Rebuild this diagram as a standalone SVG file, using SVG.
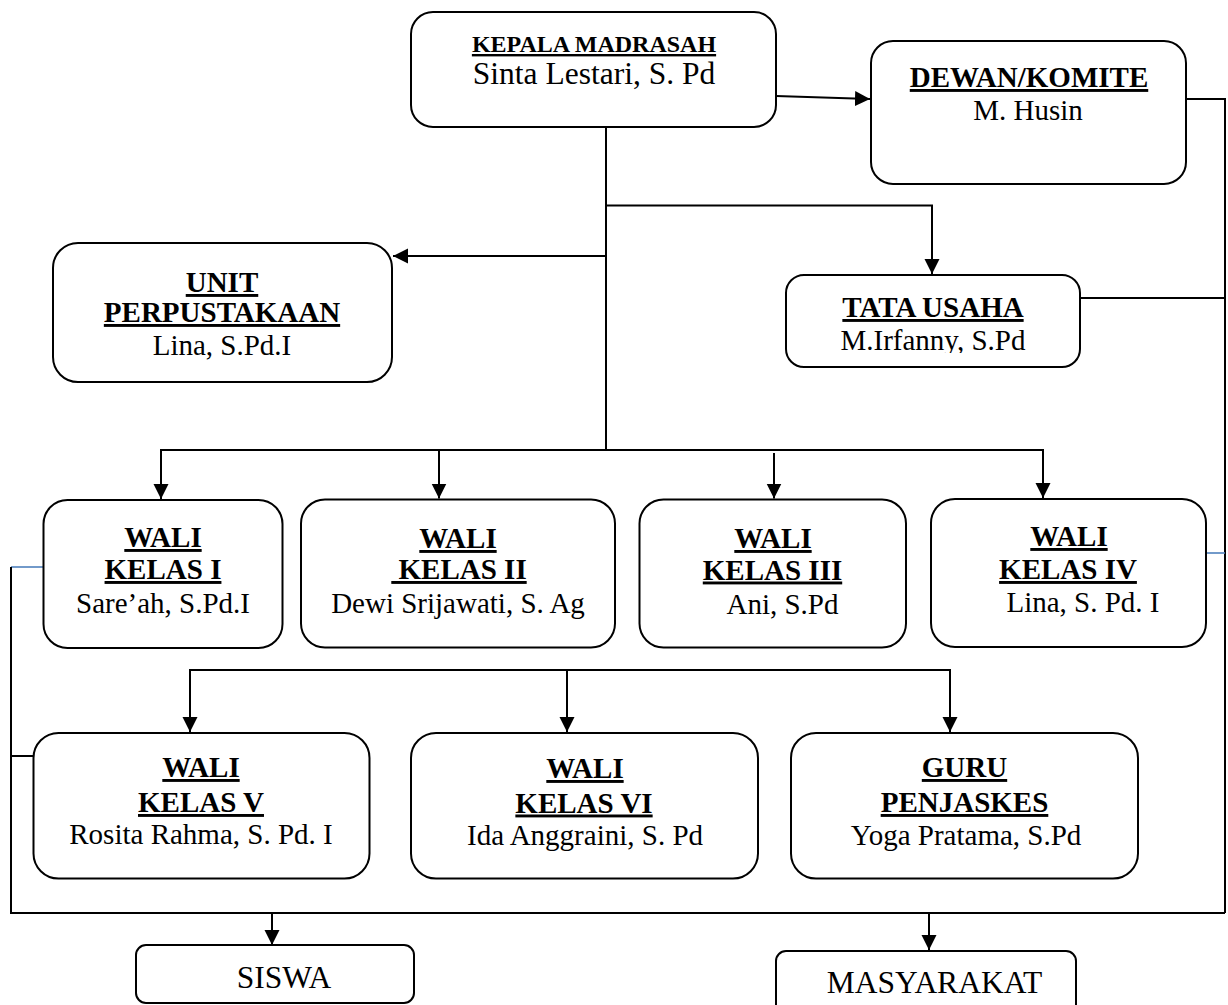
<svg xmlns="http://www.w3.org/2000/svg" width="1228" height="1005" viewBox="0 0 1228 1005">
<style>
.box{fill:#fff;stroke:#000;stroke-width:2}
.ln{fill:none;stroke:#000;stroke-width:2}
.blue{fill:none;stroke:#4F81BD;stroke-width:1.6}
text{font-family:"Liberation Serif","Times New Roman",serif;fill:#000;text-anchor:middle}
.h{font-weight:bold;font-size:29px;text-decoration:underline}
.n{font-size:29px}
</style>
<defs>
<marker id="arr" markerUnits="userSpaceOnUse" markerWidth="16" markerHeight="16" refX="15" refY="7.5" orient="auto">
<path d="M0,0 L15,7.5 L0,15 z" fill="#000"/>
</marker>
<clipPath id="tuclip"><rect x="786" y="275" width="294" height="78"/></clipPath>
</defs>
<rect width="1228" height="1005" fill="#fff"/>

<g id="connectors">
<line class="ln" x1="776" y1="96" x2="870" y2="99" marker-end="url(#arr)"/>
<line class="ln" x1="606" y1="127" x2="606" y2="450"/>
<path class="ln" d="M606,205.5 H932 V274" marker-end="url(#arr)"/>
<line class="ln" x1="606" y1="256" x2="393" y2="256" marker-end="url(#arr)"/>
<line class="ln" x1="160" y1="450" x2="1044" y2="450"/>
<line class="ln" x1="161" y1="450" x2="161" y2="499" marker-end="url(#arr)"/>
<line class="ln" x1="439" y1="450" x2="439" y2="498.5" marker-end="url(#arr)"/>
<line class="ln" x1="774" y1="453" x2="774" y2="498.5" marker-end="url(#arr)"/>
<line class="ln" x1="1043" y1="450" x2="1043" y2="498" marker-end="url(#arr)"/>
<line class="ln" x1="189" y1="670" x2="951" y2="670"/>
<line class="ln" x1="190" y1="670" x2="190" y2="732" marker-end="url(#arr)"/>
<line class="ln" x1="567" y1="670" x2="567" y2="732" marker-end="url(#arr)"/>
<line class="ln" x1="950" y1="670" x2="950" y2="732" marker-end="url(#arr)"/>
<path class="ln" d="M1186,99 H1225 V913"/>
<path class="ln" d="M1080,298 H1225"/>
<path class="blue" d="M1206,553 H1225"/>
<path class="blue" d="M43,567 H11"/>
<path class="ln" d="M11,567 V913 H1225"/>
<path class="ln" d="M11,756 H34"/>
<line class="ln" x1="272" y1="913" x2="272" y2="945" marker-end="url(#arr)"/>
<line class="ln" x1="929" y1="913" x2="929" y2="950" marker-end="url(#arr)"/>
</g>

<g id="kepala">
<rect class="box" x="411" y="12" width="365" height="115" rx="22"/>
<text x="594" y="52" style="font-weight:bold;font-size:24px;text-decoration:underline">KEPALA MADRASAH</text>
<text x="594" y="84" style="font-size:31.5px">Sinta Lestari, S. Pd</text>
</g>

<g id="dewan">
<rect class="box" x="871" y="41" width="315" height="143" rx="22"/>
<text class="h" x="1029" y="87">DEWAN/KOMITE</text>
<text class="n" x="1028" y="120">M. Husin</text>
</g>

<g id="unit">
<rect class="box" x="53" y="243" width="339" height="139" rx="25"/>
<text class="h" x="222" y="292">UNIT</text>
<text class="h" x="222" y="322">PERPUSTAKAAN</text>
<text class="n" x="222" y="355">Lina, S.Pd.I</text>
</g>

<g id="tata-usaha">
<rect class="box" x="786" y="275" width="294" height="92" rx="18"/>
<text class="h" x="933" y="317">TATA USAHA</text>
<text class="n" x="933" y="350" clip-path="url(#tuclip)">M.Irfanny, S.Pd</text>
</g>

<g id="kelas1">
<rect class="box" x="43.5" y="500" width="239" height="148" rx="24"/>
<text class="h" x="163" y="547">WALI</text>
<text class="h" x="163" y="579">KELAS I</text>
<text class="n" x="163" y="612.5">Sare’ah, S.Pd.I</text>
</g>

<g id="kelas2">
<rect class="box" x="301" y="499.5" width="314" height="148" rx="24"/>
<text class="h" x="458" y="548">WALI</text>
<text class="h" x="459" y="579" xml:space="preserve"> KELAS II</text>
<text class="n" x="458" y="613">Dewi Srijawati, S. Ag</text>
</g>

<g id="kelas3">
<rect class="box" x="639.5" y="499.5" width="266.5" height="148" rx="24"/>
<text class="h" x="773" y="548">WALI</text>
<text class="h" x="772.5" y="579.5">KELAS III</text>
<text class="n" x="782.5" y="614">Ani, S.Pd</text>
</g>

<g id="kelas4">
<rect class="box" x="931" y="499" width="275" height="148" rx="24"/>
<text class="h" x="1069" y="546">WALI</text>
<text class="h" x="1068" y="579">KELAS IV</text>
<text class="n" x="1083" y="612">Lina, S. Pd. I</text>
</g>

<g id="kelas5">
<rect class="box" x="33.5" y="733" width="336" height="145.5" rx="25"/>
<text class="h" x="201" y="777">WALI</text>
<text class="h" x="201" y="812">KELAS V</text>
<text class="n" x="201" y="844">Rosita Rahma, S. Pd. I</text>
</g>

<g id="kelas6">
<rect class="box" x="411" y="733" width="347" height="145.5" rx="25"/>
<text class="h" x="585" y="778">WALI</text>
<text class="h" x="584" y="812.5">KELAS VI</text>
<text class="n" x="585" y="845">Ida Anggraini, S. Pd</text>
</g>

<g id="guru">
<rect class="box" x="791" y="733" width="347" height="145.5" rx="25"/>
<text class="h" x="964.5" y="777">GURU</text>
<text class="h" x="964.5" y="812">PENJASKES</text>
<text class="n" x="966" y="845">Yoga Pratama, S.Pd</text>
</g>

<g id="siswa">
<rect class="box" x="136" y="945" width="278" height="58" rx="10"/>
<text x="284" y="988" style="font-size:31.5px">SISWA</text>
</g>

<g id="masyarakat">
<rect class="box" x="776" y="951" width="300" height="70" rx="10"/>
<text x="934.5" y="993" style="font-size:31.5px">MASYARAKAT</text>
</g>
</svg>
